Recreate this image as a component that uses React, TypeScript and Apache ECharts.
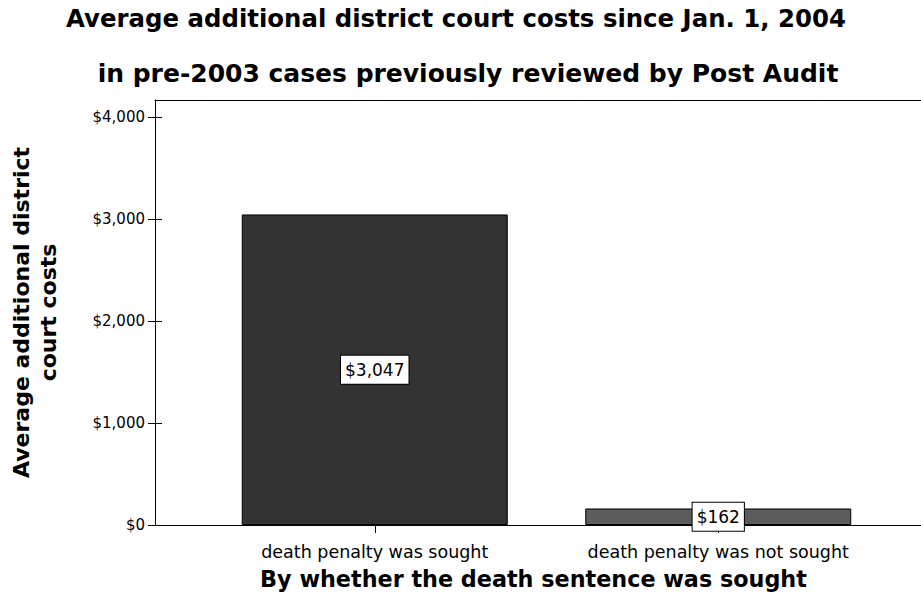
import React, { useEffect, useRef } from "react";
import * as echarts from "echarts";

const categories = ["death penalty was sought", "death penalty was not sought"];
const averageCosts = [3047, 162];
const yTickValues = [0, 1000, 2000, 3000, 4000];
const yAxisMax = 4170;
const titleLines = [
  "Average additional district court costs since Jan. 1, 2004",
  "in pre-2003 cases previously reviewed by Post Audit",
];
const yAxisTitle = "Average additional district\ncourt costs";
const xAxisTitle = "By whether the death sentence was sought";

const barColors = ["#333333", "#5c5c5c"];

const money = (v: number) => "$" + Math.round(v).toLocaleString("en-US");

export default function App() {
  const ref = useRef<HTMLDivElement>(null);
  useEffect(() => {
    if (!ref.current) return;
    const chart = echarts.init(ref.current, null, { renderer: "svg" });
    const titleFont = { fontFamily: "DejaVu Sans", fontWeight: "bold", color: "#000" };
    const frameLine = { show: true, lineStyle: { color: "#000", width: 1 } };
    const frameAxisHidden = { axisTick: { show: false }, axisLabel: { show: false }, splitLine: { show: false } };
    const option: any = {
      animation: false,
      backgroundColor: "#fff",
      title: [
        { text: titleLines[0], left: 451, top: 1, textAlign: "center", textStyle: { ...titleFont, fontSize: 24.4 } },
        { text: titleLines[1], left: 463, top: 56, textAlign: "center", textStyle: { ...titleFont, fontSize: 25 } },
      ],
      grid: [
        { left: 196, right: 31, top: 100, bottom: 84, containLabel: false },
        { left: 155, right: 0, top: 100, bottom: 84, containLabel: false },
      ],
      xAxis: [
        {
          type: "category",
          gridIndex: 0,
          data: categories,
          axisLine: { show: false },
          axisTick: { show: true, alignWithLabel: true, length: 8, lineStyle: { color: "#000" } },
          axisLabel: {
            margin: 18,
            color: "#000",
            fontFamily: "DejaVu Sans",
            fontSize: 17.5,
          },
          name: xAxisTitle,
          nameLocation: "middle",
          nameGap: 43,
          nameTextStyle: {
            fontFamily: "DejaVu Sans",
            fontWeight: "bold",
            fontSize: 22.3,
            color: "#000",
            padding: [0, 26, 0, 0],
          },
        },
        { type: "category", gridIndex: 1, position: "bottom", data: categories, axisLine: frameLine, ...frameAxisHidden },
        { type: "category", gridIndex: 1, position: "top", data: categories, axisLine: frameLine, ...frameAxisHidden },
      ],
      yAxis: [
        {
          type: "value",
          gridIndex: 0,
          min: 0,
          max: yAxisMax,
          interval: 1000,
          offset: 41,
          splitLine: { show: false },
          axisLine: { show: false },
          axisTick: {
            show: true,
            length: 14,
            customValues: yTickValues,
            lineStyle: { color: "#000" },
          },
          axisLabel: {
            margin: 17,
            customValues: yTickValues,
            formatter: (v: number) => money(v),
            color: "#000",
            fontFamily: "DejaVu Sans",
            fontSize: 15,
          },
          name: yAxisTitle,
          nameLocation: "middle",
          nameGap: 100,
          nameTextStyle: {
            fontFamily: "DejaVu Sans",
            fontWeight: "bold",
            fontSize: 22,
            lineHeight: 27,
            color: "#000",
          },
        },
        {
          type: "value",
          gridIndex: 1,
          position: "left",
          min: 0,
          max: yAxisMax,
          axisLine: frameLine,
          ...frameAxisHidden,
        },
      ],
      series: [
        {
          type: "bar",
          xAxisIndex: 0,
          yAxisIndex: 0,
          barWidth: 266,
          data: averageCosts.map((v, i) => ({
            value: v,
            itemStyle: { color: barColors[i], borderColor: "#000", borderWidth: 1 },
          })),
          label: {
            show: true,
            position: "inside",
            formatter: (p: any) => money(p.value),
            color: "#000",
            fontFamily: "DejaVu Sans",
            fontSize: 17,
            backgroundColor: "#fff",
            borderColor: "#000",
            borderWidth: 1,
            padding: [6, 4, 5, 4],
          },
        },
      ],
    };
    chart.setOption(option);
    return () => chart.dispose();
  }, []);
  return (
    <div
      ref={ref}
      style={{ position: "fixed", left: 0, top: 0, width: 921, height: 609, overflow: "hidden" }}
    />
  );
}
